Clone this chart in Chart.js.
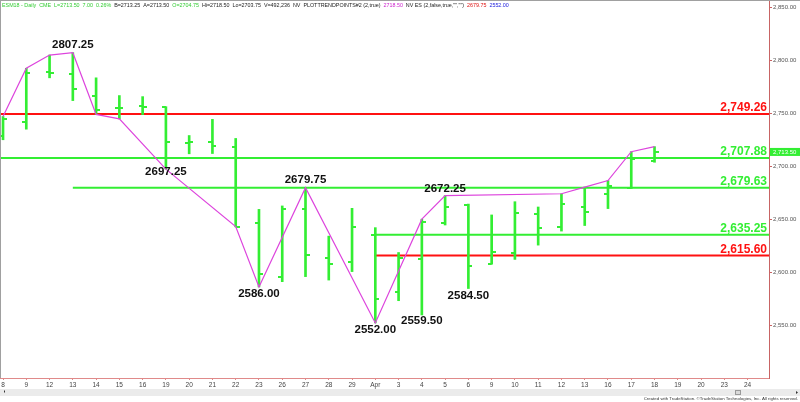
<!DOCTYPE html>
<html>
<head>
<meta charset="utf-8">
<script src="https://cdn.jsdelivr.net/npm/chart.js@4.4.1/dist/chart.umd.min.js"></script>
<style>
  body { margin: 0; background: #fff; }
  canvas { display: block; }
</style>
</head>
<body>
<canvas id="chart" width="800" height="402"></canvas>
<script>
// daily ESM18 bars, Mar 8 .. Apr 18 (axis runs on to Apr 24)
const dates = ['8', '9', '12', '13', '14', '15', '16', '19', '20', '21', '22', '23', '26', '27', '28', '29',
  'Apr', '3', '4', '5', '6', '9', '10', '11', '12', '13', '16', '17', '18', '19', '20', '23', '24'];

const opens  = [2729, 2742, 2789, 2787.5, 2766.25, 2755, 2756.75, 2756, 2722, 2722.75, 2718.5, 2646.5, 2595, 2659.5, 2613,
  2610, 2635, 2581.5, 2612, 2646.5, 2663.5, 2607.5, 2618.25, 2655, 2642.75, 2661.75, 2673.75, 2679, 2704.75];
const highs  = [2747, 2792.5, 2805, 2807.25, 2783.5, 2766.75, 2765.75, 2756.25, 2729, 2744.25, 2726.25, 2659.25, 2662.5, 2679.75, 2634,
  2660.25, 2642, 2618.5, 2650, 2672.25, 2664.25, 2654, 2666.5, 2661.5, 2674, 2680.25, 2686.5, 2713.75, 2718.5];
const lows   = [2725, 2735, 2783.5, 2762, 2749, 2744.75, 2748.75, 2697.25, 2711.75, 2712, 2642.75, 2586, 2591, 2595.75, 2592.5,
  2600.5, 2552, 2573, 2559.5, 2644.5, 2584.5, 2607.5, 2612, 2625.5, 2638.75, 2644, 2660, 2679, 2703.75];
const closes = [2745, 2788.5, 2788.5, 2772.5, 2753.5, 2755, 2755.5, 2722.5, 2723, 2719, 2643, 2598, 2659.25, 2616, 2607.5,
  2643, 2574.5, 2613, 2647.5, 2661.75, 2605.5, 2619.25, 2655.5, 2641.25, 2664.25, 2657, 2681.25, 2706.75, 2713.5];

// PLOTTRENDPOINTS swing line
const trendIdx  = [0, 1, 2, 3, 4, 5, 7, 10, 11, 13, 16, 18, 19, 24, 25, 26, 27, 28];
const trendVals = [2747, 2792.5, 2805, 2807.25, 2749, 2744.75, 2697.25, 2643, 2586, 2679.75, 2552, 2650, 2672.25, 2674, 2680.25, 2686.5, 2713.75, 2718.5];

// labelled swing points
const swingIdx   = [3, 7, 11, 13, 16, 18, 19, 20];
const swingVals  = [2807.25, 2697.25, 2586.00, 2679.75, 2552.00, 2559.50, 2672.25, 2584.50];
const swingAbove = [true, false, false, true, false, false, true, false];

// horizontal levels
const levels     = [2749.26, 2707.88, 2679.63, 2635.25, 2615.60];
const levelStart = [null, null, 3, 16, 16];
const levelIsRed = [true, false, false, false, true];

const yTicks = [2550, 2600, 2650, 2700, 2750, 2800, 2850];

const GREEN = '#33ee33';
const RED = '#ff1111';
const MAGENTA = '#dd44dd';
const X_MIN = -0.13, X_MAX = 32.92;
const swingGap = [8, 3, 7, 8, 7, 6, 7, 7];

const fmt = v => v.toLocaleString('en-US', { minimumFractionDigits: 2, maximumFractionDigits: 2 });

function tickImage(left) {
  const c = document.createElement('canvas');
  c.width = 8;
  c.height = 2;
  const g = c.getContext('2d');
  g.fillStyle = GREEN;
  if (left) g.fillRect(0, 0, 4, 2);
  else g.fillRect(4, 0, 4, 2);
  return c;
}
const openTick = tickImage(true);
const closeTick = tickImage(false);

const datasets = [];

levels.forEach((v, i) => {
  datasets.push({
    type: 'line',
    data: [{ x: levelStart[i] === null ? X_MIN : levelStart[i], y: v }, { x: X_MAX, y: v }],
    borderColor: levelIsRed[i] ? RED : GREEN,
    borderWidth: 2,
    pointRadius: 0,
    order: 10
  });
});

datasets.push({
  type: 'bar',
  data: highs.map((h, i) => ({ x: i, y: [lows[i], h] })),
  backgroundColor: GREEN,
  borderWidth: 0,
  barThickness: 2,
  grouped: false,
  order: 5
});

datasets.push({
  type: 'scatter',
  data: opens.map((v, i) => ({ x: i, y: v })),
  pointStyle: openTick,
  pointRadius: 4,
  order: 4
});
datasets.push({
  type: 'scatter',
  data: closes.map((v, i) => ({ x: i, y: v })),
  pointStyle: closeTick,
  pointRadius: 4,
  order: 4
});

datasets.push({
  type: 'line',
  data: trendIdx.map((ix, i) => ({ x: ix, y: trendVals[i] })),
  borderColor: MAGENTA,
  borderWidth: 1.2,
  pointRadius: 0,
  tension: 0,
  order: 1
});

const header = [
  ['ESM18 - Daily  CME  L=2713.50  7.00  0.26%', '#33cc33'],
  ['  B=2713.25  A=2713.50  ', '#222'],
  ['O=2704.75', '#33cc33'],
  ['  Hi=2718.50  Lo=2703.75  V=492,236  NV  PLOTTRENDPOINTS#2 (2,true)  ', '#222'],
  ['2718.50', '#cc22cc'],
  ['  NV ES (2,false,true,"","")  ', '#222'],
  ['2679.75', '#dd1111'],
  ['  ', '#222'],
  ['2552.00', '#2222dd']
];

const overlay = {
  id: 'overlay',
  beforeDraw(chart) {
    const ctx = chart.ctx;
    ctx.save();
    ctx.fillStyle = '#fff';
    ctx.fillRect(0, 0, chart.width, chart.height);
    ctx.restore();
  },
  afterDatasetsDraw(chart) {
    const { ctx, chartArea: a, scales: { x, y } } = chart;
    ctx.save();
    ctx.font = 'bold 12px "Liberation Sans", Arial, sans-serif';
    ctx.textAlign = 'right';
    ctx.textBaseline = 'alphabetic';
    levels.forEach((v, i) => {
      ctx.fillStyle = levelIsRed[i] ? RED : GREEN;
      ctx.fillText(fmt(v), a.right - 2, y.getPixelForValue(v) - 3);
    });
    ctx.font = 'bold 11.5px "Liberation Sans", Arial, sans-serif';
    ctx.textAlign = 'center';
    ctx.textBaseline = 'middle';
    ctx.fillStyle = '#111';
    swingIdx.forEach((ix, i) => {
      const py = y.getPixelForValue(swingVals[i]) + (swingAbove[i] ? -swingGap[i] : swingGap[i]);
      ctx.fillText(swingVals[i].toFixed(2), x.getPixelForValue(ix), py);
    });
    ctx.restore();
  },
  afterDraw(chart) {
    const { ctx, chartArea: a, scales: { y } } = chart;
    ctx.save();
    // frame
    ctx.strokeStyle = '#a0a0a0';
    ctx.lineWidth = 1;
    ctx.beginPath();
    ctx.moveTo(0, 0.5); ctx.lineTo(chart.width, 0.5);
    ctx.moveTo(0.5, 0); ctx.lineTo(0.5, a.bottom);
    ctx.stroke();

    // last price marker
    const last = closes[closes.length - 1];
    const py = y.getPixelForValue(last);
    ctx.fillStyle = GREEN;
    ctx.fillRect(a.right + 1, py - 4, chart.width - a.right - 1, 8);
    ctx.fillStyle = '#fff';
    ctx.font = '6px "Liberation Sans", Arial, sans-serif';
    ctx.textAlign = 'left';
    ctx.textBaseline = 'middle';
    ctx.fillText(fmt(last), a.right + 4, py + 0.5);

    // study header
    ctx.textBaseline = 'middle';
    let size = 7;
    ctx.font = size + 'px "Liberation Sans", Arial, sans-serif';
    const full = header.map(s => s[0]).join('');
    size = size * 508 / ctx.measureText(full).width;
    ctx.font = size + 'px "Liberation Sans", Arial, sans-serif';
    let hx = 2;
    header.forEach(([t, c]) => {
      ctx.fillStyle = c;
      ctx.fillText(t, hx, 5.5);
      hx += ctx.measureText(t).width;
    });

    // scroll bar
    ctx.fillStyle = '#ebebeb';
    ctx.fillRect(0, 389, chart.width, 7);
    ctx.fillStyle = '#dadada';
    ctx.fillRect(735, 390, 6, 5);
    ctx.strokeStyle = '#9a9a9a';
    ctx.strokeRect(735.5, 390.5, 5, 4);
    ctx.fillStyle = '#333';
    ctx.beginPath();
    ctx.moveTo(796, 391); ctx.lineTo(798, 392.5); ctx.lineTo(796, 394); ctx.fill();
    ctx.fillRect(4, 390.5, 1, 2);

    // footer
    const foot = 'Created with TradeStation. \u00A9TradeStation Technologies, Inc. All rights reserved.';
    ctx.font = '5px "Liberation Sans", Arial, sans-serif';
    const fs = 5 * 155 / ctx.measureText(foot).width;
    ctx.font = fs + 'px "Liberation Sans", Arial, sans-serif';
    ctx.fillStyle = '#333';
    ctx.textAlign = 'right';
    ctx.fillText(foot, 798, 399);
    ctx.restore();
  }
};

new Chart(document.getElementById('chart'), {
  type: 'bar',
  data: { datasets },
  options: {
    responsive: false,
    devicePixelRatio: 1,
    animation: false,
    layout: { padding: 0, autoPadding: false },
    plugins: { legend: { display: false }, tooltip: { enabled: false } },
    scales: {
      x: {
        type: 'linear',
        min: X_MIN,
        max: X_MAX,
        offset: false,
        afterBuildTicks: s => { s.ticks = dates.map((d, i) => ({ value: i })); },
        afterFit: s => { s.height = 24; s.paddingLeft = 0; s.paddingRight = 0; },
        grid: { drawOnChartArea: false, offset: false, tickLength: 2, color: '#e08a8a' },
        border: { color: '#e08a8a' },
        ticks: {
          autoSkip: false,
          maxRotation: 0,
          padding: 1,
          color: '#444',
          font: { size: 6.5, family: '"Liberation Sans", Arial, sans-serif' },
          callback: v => dates[v]
        }
      },
      y: {
        type: 'linear',
        position: 'right',
        min: 2500,
        max: 2857,
        beginAtZero: false,
        afterBuildTicks: s => { s.ticks = yTicks.map(v => ({ value: v })); },
        afterFit: s => { s.width = 31; s.paddingTop = 0; s.paddingBottom = 0; },
        grid: { drawOnChartArea: false, tickLength: 3, color: '#c86464' },
        border: { color: '#c86464' },
        ticks: {
          padding: 1,
          color: '#555',
          font: { size: 6, family: '"Liberation Sans", Arial, sans-serif' },
          callback: v => fmt(v)
        }
      }
    }
  },
  plugins: [overlay]
});
</script>
</body>
</html>
